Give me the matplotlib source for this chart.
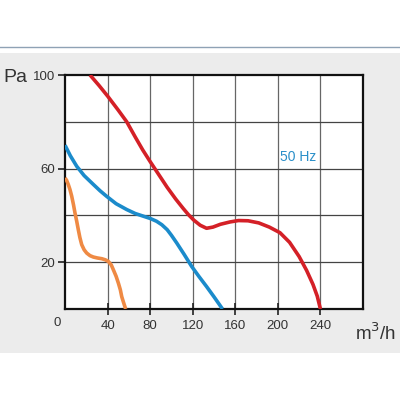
import matplotlib.pyplot as plt
from matplotlib.patches import Rectangle

plt.rcParams['font.family'] = ['Liberation Sans', 'DejaVu Sans']

# curves (flow m3/h, pressure Pa)
red_x = [23.5, 32, 40, 50, 58, 66, 73, 80, 88, 96, 104, 111, 116, 121, 127, 133, 139, 146, 155, 163, 172, 182, 192, 202, 211, 220, 227, 233, 237, 240]
red_y = [100, 95.5, 91, 85, 80, 73.5, 68, 63, 57.5, 52, 47, 43, 40.3, 38, 35.8, 34.5, 35, 36.2, 37.2, 37.8, 37.7, 36.8, 35, 32.6, 28.5, 22.4, 16.5, 10.5, 5.5, 0]

blue_x = [0, 5, 11, 18, 26.7, 33, 39, 48, 58, 66, 74, 80, 86, 91, 96, 100, 105, 112, 119, 126, 133, 140, 148]
blue_y = [70, 65.5, 61, 57, 53.2, 50.5, 48.2, 45, 42.5, 40.8, 39.6, 38.7, 37.5, 36, 33.9, 31.5, 28.2, 23.3, 18.2, 13.8, 9.6, 5.2, 0]

orange_x = [0, 1.5, 3.1, 4.7, 6.3, 8, 9.4, 11, 12.5, 14, 15.7, 18, 20.4, 23.5, 26.7, 30.5, 34.5, 38, 40.8, 43.5, 45.5, 48, 50.2, 52, 53.3, 55, 57]
orange_y = [56, 55, 53.2, 51, 48.2, 44.5, 41, 37.5, 33.9, 30.5, 27.5, 25.3, 23.9, 22.8, 22.2, 21.8, 21.5, 21, 20.3, 18.8, 16.7, 14, 11, 8.2, 5.3, 2.8, 0]

x_ticks = [40, 80, 120, 160, 200, 240]
y_labels = [20, 60, 100]

fig = plt.figure(figsize=(4, 4), dpi=100)
fig.patch.set_facecolor('white')
panel = Rectangle((0, 0.1175), 1, 0.75, transform=fig.transFigure,
                  facecolor='#ececec', edgecolor='none', zorder=-5)
fig.add_artist(panel)
fig.add_artist(plt.Line2D([0, 1], [0.8825, 0.8825], transform=fig.transFigure,
                          color='#8fa2b5', linewidth=1.0, zorder=-5))

ax = fig.add_axes([0.1625, 0.2275, 0.745, 0.585])
ax.set_facecolor('white')
ax.set_xlim(0, 280)
ax.set_ylim(0, 100)

for gx in range(40, 280, 40):
    ax.axvline(gx, color='#666666', linewidth=0.9, zorder=1)
for gy in range(20, 100, 20):
    ax.axhline(gy, color='#444444', linewidth=0.9, zorder=1)

ax.plot(red_x, red_y, color='#d42027', linewidth=2.6, solid_capstyle='butt', solid_joinstyle='round', zorder=3)
ax.plot(blue_x, blue_y, color='#1b8bcb', linewidth=2.6, solid_capstyle='butt', solid_joinstyle='round', zorder=3)
ax.plot(orange_x, orange_y, color='#ef8a44', linewidth=2.6, solid_capstyle='butt', solid_joinstyle='round', zorder=3)

for s in ax.spines.values():
    s.set_linewidth(1.6)
    s.set_color('#111111')

ax.set_xticks(x_ticks)
ax.set_xticklabels([str(v) for v in x_ticks])
ax.set_yticks(y_labels)
ax.set_yticklabels([str(v) for v in y_labels])
ax.tick_params(axis='x', direction='inout', length=8, width=1.2, color='#222222',
               labelsize=9.5, labelcolor='#333333', pad=4)
ax.tick_params(axis='y', direction='out', length=5, width=1.2, color='#222222',
               labelsize=9.5, labelcolor='#333333', pad=2)

ax.text(-4, -3.5, '0', ha='right', va='top', fontsize=9.5, color='#333333', clip_on=False)
ax.text(202, 65, '50 Hz', ha='left', va='center', fontsize=10, color='#2a8fc9')
fig.text(0.008, 0.805, 'Pa', ha='left', va='center', fontsize=14, color='#333333')
fig.text(0.99, 0.168, r'm$^3$/h', ha='right', va='center', fontsize=13.5, color='#333333')

fig.savefig('out.png', dpi=100)
